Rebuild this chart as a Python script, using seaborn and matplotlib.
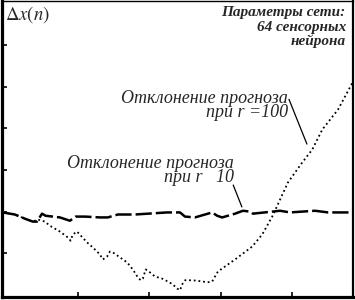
import matplotlib

matplotlib.use("Agg")

import matplotlib.pyplot as plt
import numpy as np
import pandas as pd
import seaborn as sns

# forecast deviation, r = 10 (dashed)
n_r10 = [0, 17, 31, 42, 48, 55, 60, 80, 94, 102, 115, 136, 147, 161, 185, 230, 248,
         255, 269, 293, 300, 307, 325, 336, 346, 350, 377, 388, 402, 419, 437, 455, 489]
dx_r10 = [-0.02, -0.07, -0.17, -0.24, -0.24, -0.05, -0.10, -0.14, -0.22, -0.12, -0.12,
          -0.14, -0.14, -0.07, -0.07, -0.02, -0.02, -0.12, -0.14, -0.02, -0.10, -0.14,
          -0.05, 0.02, 0.0, -0.05, 0.0, 0.02, -0.02, 0.0, 0.02, -0.02, -0.02]

# forecast deviation, r = 100 (dotted)
n_r100 = [0, 17, 31, 42, 49, 59, 66, 80, 91, 95, 98, 104, 118, 126, 136, 140, 146, 150,
          154, 164, 174, 182, 189, 193, 196, 200, 206, 213, 223, 231, 238, 244, 248, 251,
          255, 266, 280, 286, 293, 297, 301, 325, 349, 363, 377, 388, 399, 419, 433, 447,
          469, 489]
dx_r100 = [-0.02, -0.07, -0.17, -0.24, -0.19, -0.24, -0.34, -0.48, -0.62, -0.70, -0.55,
           -0.48, -0.74, -0.86, -1.03, -1.15, -1.08, -0.96, -0.98, -1.10, -1.22, -1.39,
           -1.58, -1.65, -1.61, -1.39, -1.46, -1.56, -1.61, -1.68, -1.75, -1.85, -1.89,
           -1.75, -1.65, -1.65, -1.68, -1.70, -1.68, -1.56, -1.44, -1.15, -0.84, -0.55,
           -0.12, 0.29, 0.70, 1.18, 1.49, 1.97, 2.45, 3.09]

x_ticks = [105, 205, 305, 405]
y_ticks = [-1, 0, 1, 2, 3, 4]

label_params = "Параметры сети:\n64 сенсорных\nнейрона"
label_r100 = "Отклонение прогноза\nпри r =100"
label_r10 = "Отклонение прогноза\nпри r   10"

sns.set_style("white")
plt.rcParams["font.family"] = ["Liberation Serif", "DejaVu Serif"]
plt.rcParams["mathtext.fontset"] = "stix"

fig = plt.figure(figsize=(3.55, 3.0), dpi=100)
ax = fig.add_axes([2 / 355, 3.5 / 300, 351 / 355, 295.5 / 300])

df10 = pd.DataFrame({"n": n_r10, "dx": dx_r10})
df100 = pd.DataFrame({"n": n_r100, "dx": dx_r100})

sns.lineplot(data=df100, x="n", y="dx", ax=ax, color="black", lw=1.3,
             linestyle=(0, (1, 1.6)), sort=False, estimator=None)
sns.lineplot(data=df10, x="n", y="dx", ax=ax, color="black", lw=1.8,
             linestyle=(0, (6.5, 1.6)), sort=False, estimator=None)

ax.set_xlim(-1, 490)
ax.set_ylim(-2.04, 5.06)
ax.set_xticks(x_ticks)
ax.set_yticks(y_ticks)
ax.set_xticklabels([])
ax.set_yticklabels([])
ax.set_xlabel("")
ax.set_ylabel("")
ax.tick_params(direction="in", length=3.5, width=1.2, color="black",
               bottom=True, left=True)

for side, lw in {"left": 2.3, "bottom": 2.3, "right": 1.6, "top": 1.0}.items():
    ax.spines[side].set_visible(True)
    ax.spines[side].set_color("black")
    ax.spines[side].set_linewidth(lw)

ax.text(0.008, 0.99, r"$\Delta x(n)$", transform=ax.transAxes,
        ha="left", va="top", fontsize=13.5)

ax.text(480, 4.93, label_params, ha="right", va="top", fontsize=11,
        fontweight="bold", fontstyle="italic", linespacing=1.12)

ax.text(399, 2.93, label_r100, ha="right", va="top", fontsize=13,
        fontstyle="italic", linespacing=0.78, multialignment="right")
ax.annotate("", xy=(427, 1.56), xytext=(399, 2.76),
            arrowprops=dict(arrowstyle="-", color="black", lw=0.9))

ax.text(323, 1.37, label_r10, ha="right", va="top", fontsize=13,
        fontstyle="italic", linespacing=0.82, multialignment="right")
ax.annotate("", xy=(336, 0.05), xytext=(321, 0.70),
            arrowprops=dict(arrowstyle="-", color="black", lw=0.9))

fig.savefig("out.png", dpi=100)
plt.close(fig)
